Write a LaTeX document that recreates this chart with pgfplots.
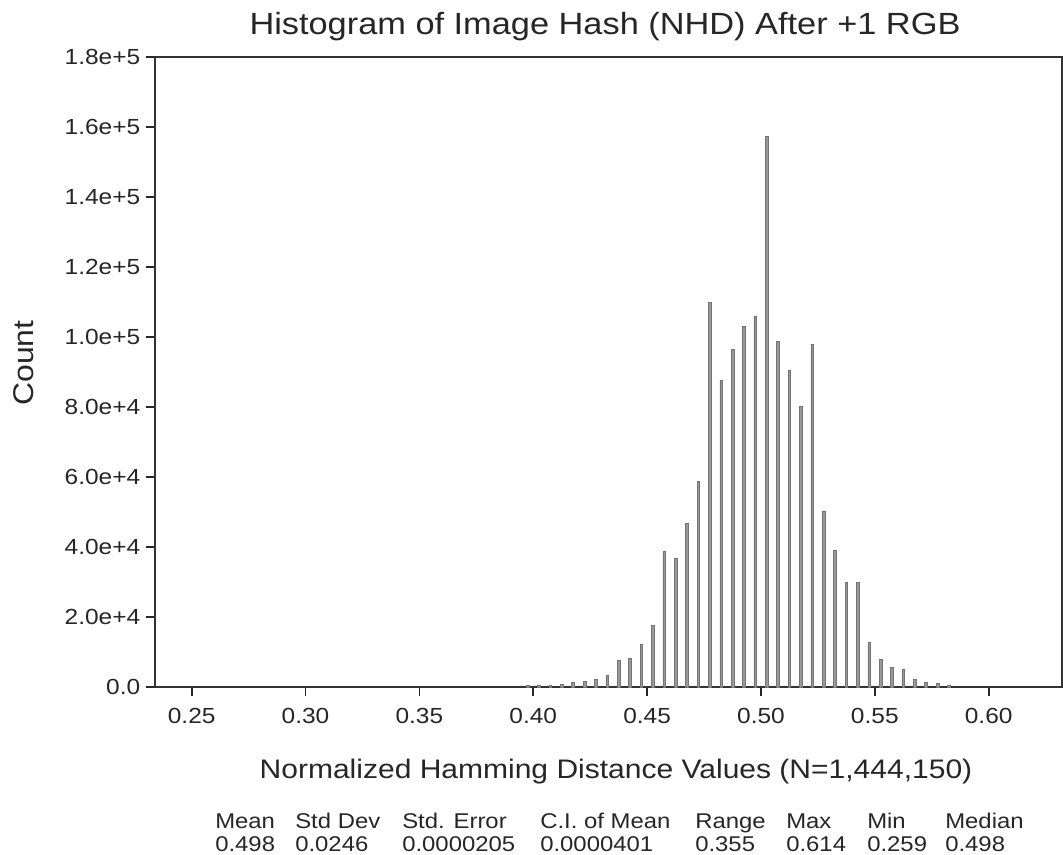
\documentclass[border=0pt]{standalone}
\usepackage{fontspec}
\setmainfont{Liberation Sans}[FakeStretch=1.12]
\usepackage{pgfplots}
\pgfplotsset{compat=1.18}
\usepackage{pgfplotstable}
\pgfplotstableread{
x       y
0.3975  450
0.4025  450
0.4075  570
0.4125  680
0.4175  1470
0.4225  1580
0.4275  2150
0.4325  3280
0.4375  7580
0.4425  8260
0.4475  12300
0.4525  17500
0.4575  38800
0.4625  36900
0.4675  46800
0.4725  58800
0.4775  109900
0.4825  87500
0.4875  96500
0.4925  103100
0.4975  106000
0.5025  157300
0.5075  98700
0.5125  90500
0.5175  80200
0.5225  97800
0.5275  50100
0.5325  39100
0.5375  30000
0.5425  30000
0.5475  12800
0.5525  8000
0.5575  5700
0.5625  4950
0.5675  2100
0.5725  1300
0.5775  1000
0.5825  570
}\histdata
\begin{document}
\begin{tikzpicture}
\path[use as bounding box] (0,0) rectangle (797.25pt,640.5pt);
\begin{axis}[
  scale only axis,
  width=680.25pt, height=472.5pt,
  at={(116.25pt,125.25pt)}, anchor=south west,
  xmin=0.2339, xmax=0.6322, ymin=0, ymax=180000,
  axis line style={line width=1.2pt, black!80},
  xtick={0.25,0.30,0.35,0.40,0.45,0.50,0.55,0.60},
  xticklabels={0.25,0.30,0.35,0.40,0.45,0.50,0.55,0.60},
  ytick={0,20000,40000,60000,80000,100000,120000,140000,160000,180000},
  yticklabels={0.0,2.0e+4,4.0e+4,6.0e+4,8.0e+4,1.0e+5,1.2e+5,1.4e+5,1.6e+5,1.8e+5},
  scaled y ticks=false,
  tick align=outside,
  xtick pos=bottom, ytick pos=left,
  major tick length=6.5pt,
  tick style={line width=1.3pt, black!85},
  tick label style={font=\fontsize{16.4pt}{19pt}\selectfont, text=black!85},
  xticklabel style={yshift=-6pt},
  yticklabel style={xshift=-1pt},
]
\addplot[ybar, bar width=2.0pt, fill=black!40, draw=black!55, line width=0.4pt]
  table[x=x, y=y] {\histdata};
\end{axis}
\node[anchor=base, font=\fontsize{23pt}{27pt}\selectfont, text=black!85] at (453.75pt,614.25pt) {Histogram of Image Hash (NHD) After +1 RGB};
\node[anchor=base, font=\fontsize{20.1pt}{24pt}\selectfont, text=black!85] at (462pt,57pt) {Normalized Hamming Distance Values (N=1,444,150)};
\node[anchor=base, rotate=90, font=\fontsize{21.4pt}{25pt}\selectfont, text=black!85] at (24.75pt,368.25pt) {Count};
\begin{scope}[every node/.style={anchor=base west, inner sep=0pt, font=\fontsize{16pt}{19pt}\selectfont, text=black!85}]
\node at (161.25pt,19.5pt) {Mean};
\node at (221.25pt,19.5pt) {Std Dev};
\node at (301.5pt,19.5pt) {Std. Error};
\node at (405pt,19.5pt) {C.I. of Mean};
\node at (521.25pt,19.5pt) {Range};
\node at (589.5pt,19.5pt) {Max};
\node at (650.25pt,19.5pt) {Min};
\node at (708.75pt,19.5pt) {Median};
\node at (161.25pt,2pt) {0.498};
\node at (221.25pt,2pt) {0.0246};
\node at (301.5pt,2pt) {0.0000205};
\node at (405pt,2pt) {0.0000401};
\node at (521.25pt,2pt) {0.355};
\node at (589.5pt,2pt) {0.614};
\node at (650.25pt,2pt) {0.259};
\node at (708.75pt,2pt) {0.498};
\end{scope}
\end{tikzpicture}
\end{document}
